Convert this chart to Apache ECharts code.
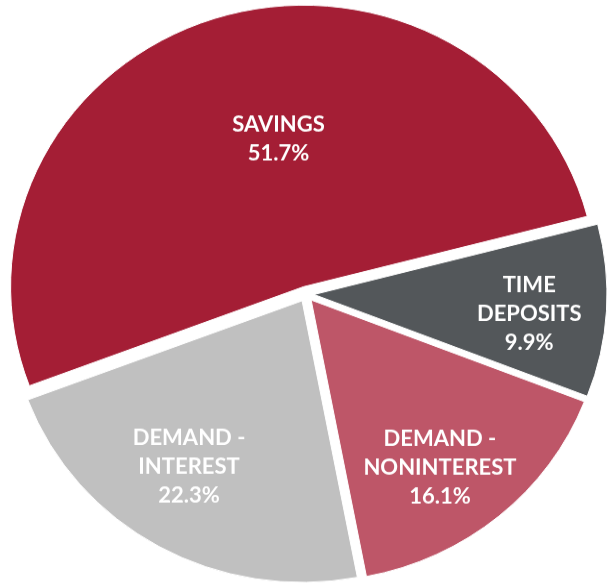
<!DOCTYPE html>
<html>
<head>
<meta charset="utf-8">
<script src="https://cdn.jsdelivr.net/npm/echarts@6/dist/echarts.min.js"></script>
<style>
  html, body { margin: 0; padding: 0; background: #ffffff; overflow: hidden; }
  /* the pie is drawn slightly flattened, as in the source deck */
  #chart { width: 612px; height: 612px; transform: scaleY(0.961); transform-origin: 0 0; }
</style>
</head>
<body>
<div id="chart"></div>
<script>
// Deposit mix by account type (percent of total deposits)
const categories = ['SAVINGS', 'TIME\nDEPOSITS', 'DEMAND -\nNONINTEREST', 'DEMAND -\nINTEREST'];
const shares = [51.7, 9.9, 16.1, 22.3];
const sliceColors = ['#A41E35', '#53575A', '#BE5668', '#C0C0C0'];

// nudge each label from the slice's mid-radius point
const labelShift = [[20, -11], [66, 12], [33, 60], [-40, 43]];

const chart = echarts.init(document.getElementById('chart'), null, { renderer: 'canvas' });

chart.setOption({
  animation: false,
  series: [{
    type: 'pie',
    center: [306, 306],
    radius: [0, 293],
    startAngle: 200.6,
    clockwise: true,
    avoidLabelOverlap: false,
    selectedMode: 'multiple',
    selectedOffset: 8,
    itemStyle: { borderColor: '#ffffff', borderWidth: 1 },
    select: { itemStyle: { borderColor: '#ffffff', borderWidth: 1 } },
    emphasis: { disabled: true },
    label: {
      show: true,
      position: 'inside',
      formatter: '{b}\n{c}%',
      color: '#ffffff',
      fontFamily: 'Lato, "Open Sans", sans-serif',
      fontWeight: 'bold',
      fontSize: 22,
      lineHeight: 30,
      align: 'center'
    },
    labelLine: { show: false },
    labelLayout: function (params) {
      const s = labelShift[params.dataIndex];
      return { dx: s[0], dy: s[1] };
    },
    data: categories.map(function (name, i) {
      return {
        name: name,
        value: shares[i],
        selected: true,
        itemStyle: { color: sliceColors[i] }
      };
    })
  }]
});
</script>
</body>
</html>
